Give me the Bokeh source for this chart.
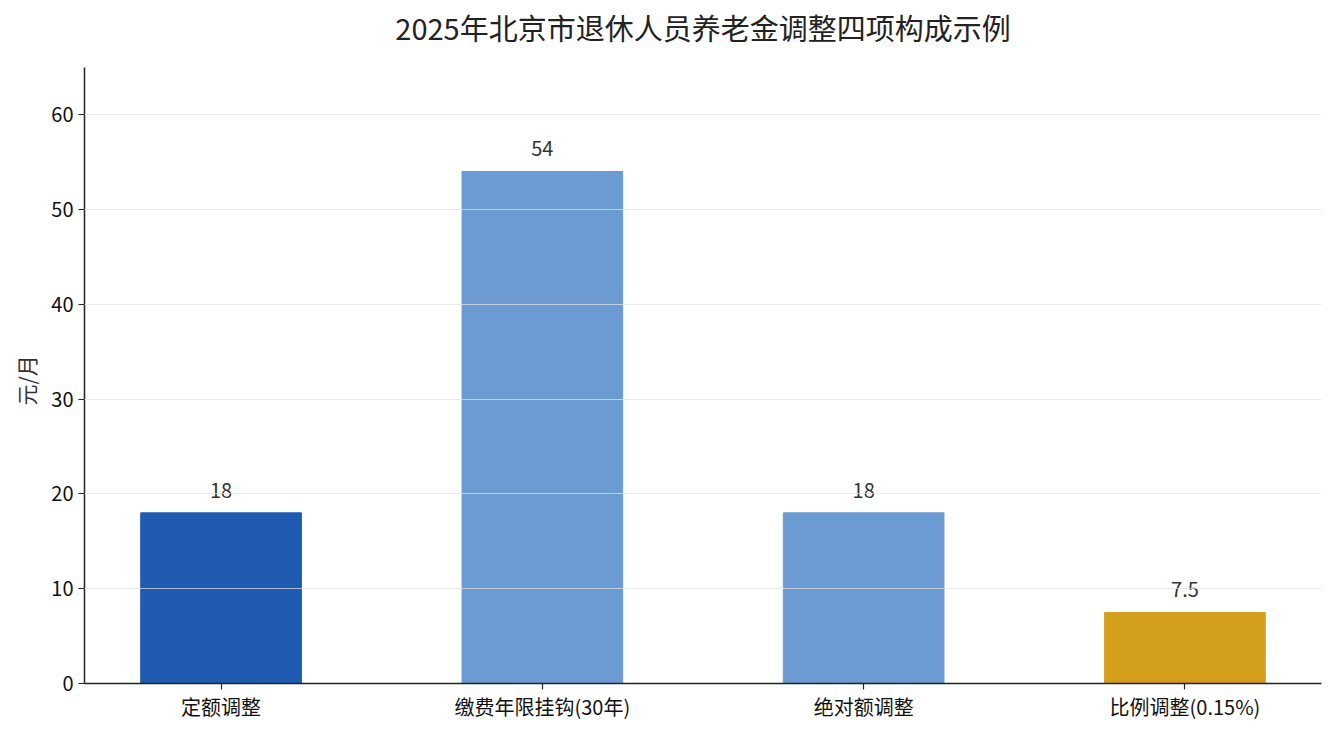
from bokeh.plotting import figure
from bokeh.models import Range1d, FixedTicker, ColumnDataSource, Title
from bokeh.core.properties import value
from bokeh.embed import file_html
from bokeh.resources import INLINE

title_text = "2025年北京市退休人员养老金调整四项构成示例"
y_label = "元/月"
categories = ["定额调整", "缴费年限挂钩(30年)", "绝对额调整", "比例调整(0.15%)"]
amounts = [18, 54, 18, 7.5]
labels = ["18", "54", "18", "7.5"]
colors = ["#1f5bb0", "#6b9bd2", "#6b9bd2", "#d4a01c"]
y_ticks = [0, 10, 20, 30, 40, 50, 60]
y_max = 65

FONT = "Noto Sans CJK SC"

# frame extends up to the top of the figure; the axis itself stops at y_max,
# the extra space above holds the title
p = figure(width=1324, height=723, output_backend="svg", toolbar_location=None,
           x_range=Range1d(-0.425, 3.425), y_range=Range1d(0, 71.5),
           min_border_left=84, min_border_right=3, min_border_top=5, min_border_bottom=30)

xs = list(range(len(categories)))
src = ColumnDataSource(dict(x=xs, top=amounts, color=colors, label=labels))
p.vbar(x="x", top="top", width=0.5, bottom=0, color="color", source=src)
p.text(x="x", y="top", text="label", source=src, text_align="center", text_baseline="bottom",
       y_offset=-15, text_font=value(FONT), text_font_size="20px", text_color="#333333")

p.text(x=[1.5], y=[y_max], text=[title_text], y_offset=-40, text_align="center",
       text_baseline="middle", text_font=value(FONT), text_font_size="29px",
       text_color="#222222")

p.xaxis.ticker = FixedTicker(ticks=xs)
p.xaxis.major_label_overrides = {i: c for i, c in enumerate(categories)}
p.xaxis.major_label_standoff = 2
p.yaxis.ticker = FixedTicker(ticks=y_ticks)
p.yaxis.bounds = (0, y_max)
p.xgrid.visible = False
p.ygrid.grid_line_color = "#e4e4e4"
p.ygrid.grid_line_alpha = 0.7
p.ygrid.level = "annotation"
p.outline_line_color = None

for ax in (p.xaxis, p.yaxis):
    ax.axis_line_color = "#222222"
    ax.axis_line_width = 1.5
    ax.major_tick_line_color = "#222222"
    ax.major_tick_line_width = 1.2
    ax.major_tick_out = 6
    ax.major_tick_in = 0
    ax.minor_tick_line_color = None
    ax.major_label_text_font = FONT
    ax.major_label_text_font_size = "20px"
    ax.major_label_text_color = "#111111"

# y-axis title, centred on the visible axis extent (0..y_max)
ytitle = Title(text=y_label, align="left", offset=278, standoff=16,
               text_font=FONT, text_font_size="21px", text_font_style="normal",
               text_color="#333333")
p.add_layout(ytitle, "left")

p.background_fill_color = "white"
p.border_fill_color = "white"

open("out.html", "w").write(file_html(p, INLINE))
